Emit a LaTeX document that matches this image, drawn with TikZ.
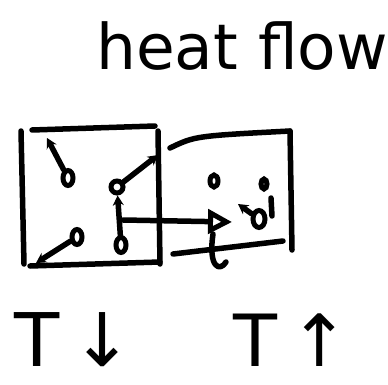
\documentclass[tikz,border=0pt]{standalone}
\usepackage{fontspec}
\setmainfont{DejaVu Sans}
\usetikzlibrary{arrows.meta,shapes.geometric}
\begin{document}
\begin{tikzpicture}[x=1pt,y=-1pt,
  pen/.style={line width=5.5pt,line cap=round,line join=round},
  flow/.style={pen,-{Stealth[length=10pt,width=11pt]}},
  particle/.style={draw,line width=5pt,ellipse,minimum width=10pt,minimum height=15pt,inner sep=0pt},
  lbl/.style={inner sep=0pt}]
\useasboundingbox (0,0) rectangle (388,385);
% title
\node[lbl,font=\fontsize{63}{63}\selectfont,anchor=base] (title) at (242,70) {heat flow};
% left box
\draw[pen] (21,131) -- (24,264);
\draw[pen] (32,130) -- (155,126);
\draw[pen] (158,131) -- (160,264);
\draw[pen] (30,266) -- (160,262);
% right box
\draw[pen] (170,148) .. controls (195,136) .. (290,131);
\draw[pen] (290,131) -- (292,250);
\draw[pen] (173,254) -- (283,241);
% particles in the left box
\node[particle] (p1) at (68,178) {};
\coordinate (p1e) at (47,138);
\draw[flow] (p1) -- (p1e);
\node[particle,minimum width=12pt,minimum height=12pt] (p2) at (117,187) {};
\coordinate (p2e) at (158,155);
\draw[flow] (p2) -- (p2e);
\node[particle] (p3) at (77,237) {};
\coordinate (p3e) at (36,263);
\draw[flow] (p3) -- (p3e);
\node[particle] (p4) at (121,245) {};
\draw[flow] (p4) -- (p2);
% particles in the right box
\node[particle,minimum width=8pt,minimum height=12pt] (q1) at (214,181) {};
\node[particle,minimum width=12pt,minimum height=17pt] (q2) at (259,219) {};
\coordinate (q2e) at (238,204);
\draw[flow] (q2) -- (q2e);
\node[particle,minimum width=6pt,minimum height=10pt] (q3) at (264,184) {};
\coordinate (q4a) at (271,198);
\coordinate (q4b) at (272,216);
\draw[pen] (q4a) -- (q4b);
% long transfer arrow
\coordinate (ts) at (123,220);
\coordinate (te) at (232,222);
\draw[pen,-{Triangle[open,length=24pt,width=24pt,line width=5pt]}] (ts) -- (te);
\coordinate (ds) at (213,234);
\coordinate (de) at (226,262);
\draw[pen] (ds) .. controls (208,268) and (220,272) .. (de);
% temperature labels
\node[lbl,font=\fontsize{74}{74}\selectfont] (tl) at (74,340) {T\,↓};
\node[lbl,font=\fontsize{72}{72}\selectfont] (tr) at (292,340) {T\,↑};
\end{tikzpicture}
\end{document}
